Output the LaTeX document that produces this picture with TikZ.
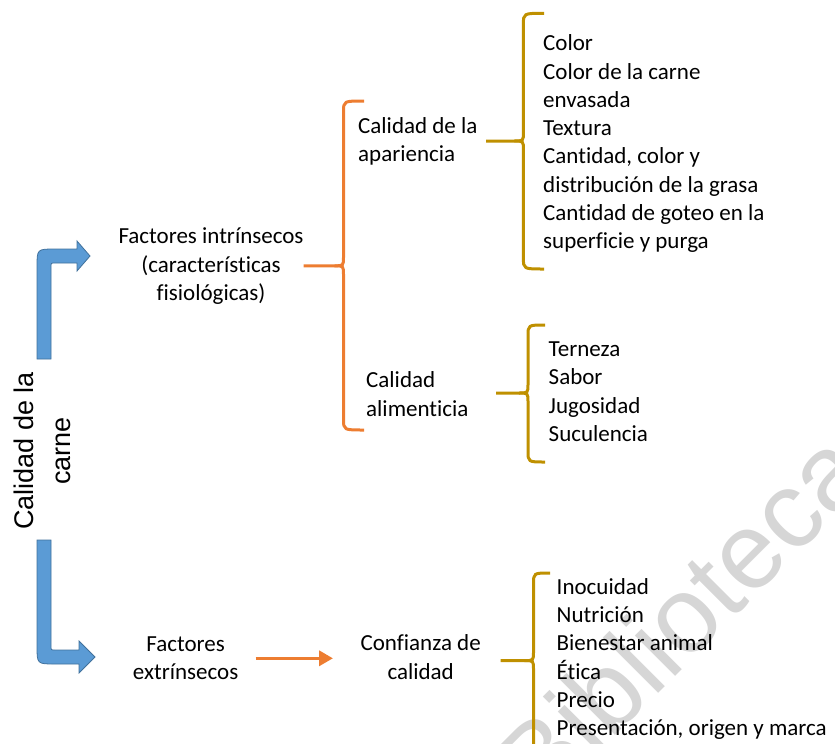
\documentclass[tikz,border=0pt]{standalone}
\usepackage{fontspec}
\setmainfont{Carlito}[Ligatures=NoCommon]
\newfontfamily\arialf{Liberation Sans}
\usetikzlibrary{arrows.meta}
\definecolor{cblue}{HTML}{5B9BD5}
\definecolor{cblueline}{HTML}{41719C}
\definecolor{corange}{HTML}{ED7D31}
\definecolor{cgold}{HTML}{BF9000}
% #1 x of spine, #2 top, #3 cusp, #4 bottom, #5 left end of stub, #6 right end of top/bottom
\newcommand\mybrace[6]{%
  \draw ({#6},{#2}) .. controls ({#1},{#2}) .. ({#1},{#2+11}) -- ({#1},{#3-9})
        .. controls ({#1},{#3}) .. ({#1-9},{#3}) -- ({#5},{#3});
  \draw ({#1-9},{#3}) .. controls ({#1},{#3}) .. ({#1},{#3+9}) -- ({#1},{#4-11})
        .. controls ({#1},{#4}) .. ({#6},{#4});
}
\begin{document}
\begin{tikzpicture}[x=1pt,y=-1pt,
  txt/.style={inner sep=0pt, align=left, anchor=north west, font=\fontsize{23}{28.3}\selectfont},
  ctxt/.style={inner sep=0pt, align=center, anchor=north, font=\fontsize{23}{28.3}\selectfont},
  bluearrow/.style={fill=cblue, draw=cblueline, line width=0.8pt, line join=miter},
  obrace/.style={draw=corange, line width=3pt},
  gbrace/.style={draw=cgold, line width=3pt}]
\useasboundingbox (0,0) rectangle (835,744);

% watermark
\node[rotate=45, text=black!16, inner sep=0pt, font=\arialf\fontsize{108}{108}\selectfont] (wm) at (681,616) {Biblioteca};

% vertical title
\node[rotate=90, inner sep=0pt, align=center, font=\arialf\fontsize{27}{37}\selectfont] (title) at (45,451) {\strut Calidad de la\\carne\strut};

% blue arrows
\path[bluearrow] (37,359) -- (37,267) .. controls (37,249) .. (55,249) -- (77,249) -- (77,241)
  -- (90,256) -- (77,271) -- (77,263) -- (55,263) .. controls (51,263) .. (51,267) -- (51,359) -- cycle;
\path[bluearrow] (37,540) -- (37,646) .. controls (37,664) .. (55,664) -- (79,664) -- (79,673)
  -- (95,657) -- (79,641) -- (79,650) -- (55,650) .. controls (51,650) .. (51,646) -- (51,540) -- cycle;

% texts
\node[ctxt] (fi) at (211,223.7) {\strut Factores intrínsecos\\(características\\fisiológicas)};
\node[txt] (ap) at (358,113.4) {\strut Calidad de la\\apariencia};
\node[txt] (al) at (366,367.7) {\strut Calidad\\alimenticia};
\node[txt] (l1) at (543,30.7) {\strut Color\\Color de la carne\\envasada\\Textura\\Cantidad, color y\\distribución de la grasa\\Cantidad de goteo en la\\superficie y purga};
\node[txt] (l2) at (548.5,336.5) {\strut Terneza\\Sabor\\Jugosidad\\Suculencia};
\node[ctxt] (fe) at (185.6,631.2) {\strut Factores\\extrínsecos};
\node[ctxt] (cc) at (420.7,630.7) {\strut Confianza de\\calidad};
\node[txt] (l3) at (556.5,574.3) {\strut Inocuidad\\Nutrición\\Bienestar animal\\Ética\\Precio\\Presentación, origen y marca};

% braces
\begin{scope}[obrace]
\mybrace{343.5}{101}{265.8}{430}{303.5}{364}
\end{scope}
\begin{scope}[gbrace]
\mybrace{523.4}{13.3}{141}{269}{486}{544}
\mybrace{528}{325}{393}{462}{496}{545}
\mybrace{533.5}{573}{660.6}{820}{500.5}{550}
\end{scope}

% orange arrow
\coordinate (oa1) at (255.6,658.3);
\coordinate (oa2) at (333,658.3);
\draw[corange, line width=3.5pt, -{Triangle[length=14pt,width=15pt]}] (oa1) -- (oa2);
\end{tikzpicture}
\end{document}
